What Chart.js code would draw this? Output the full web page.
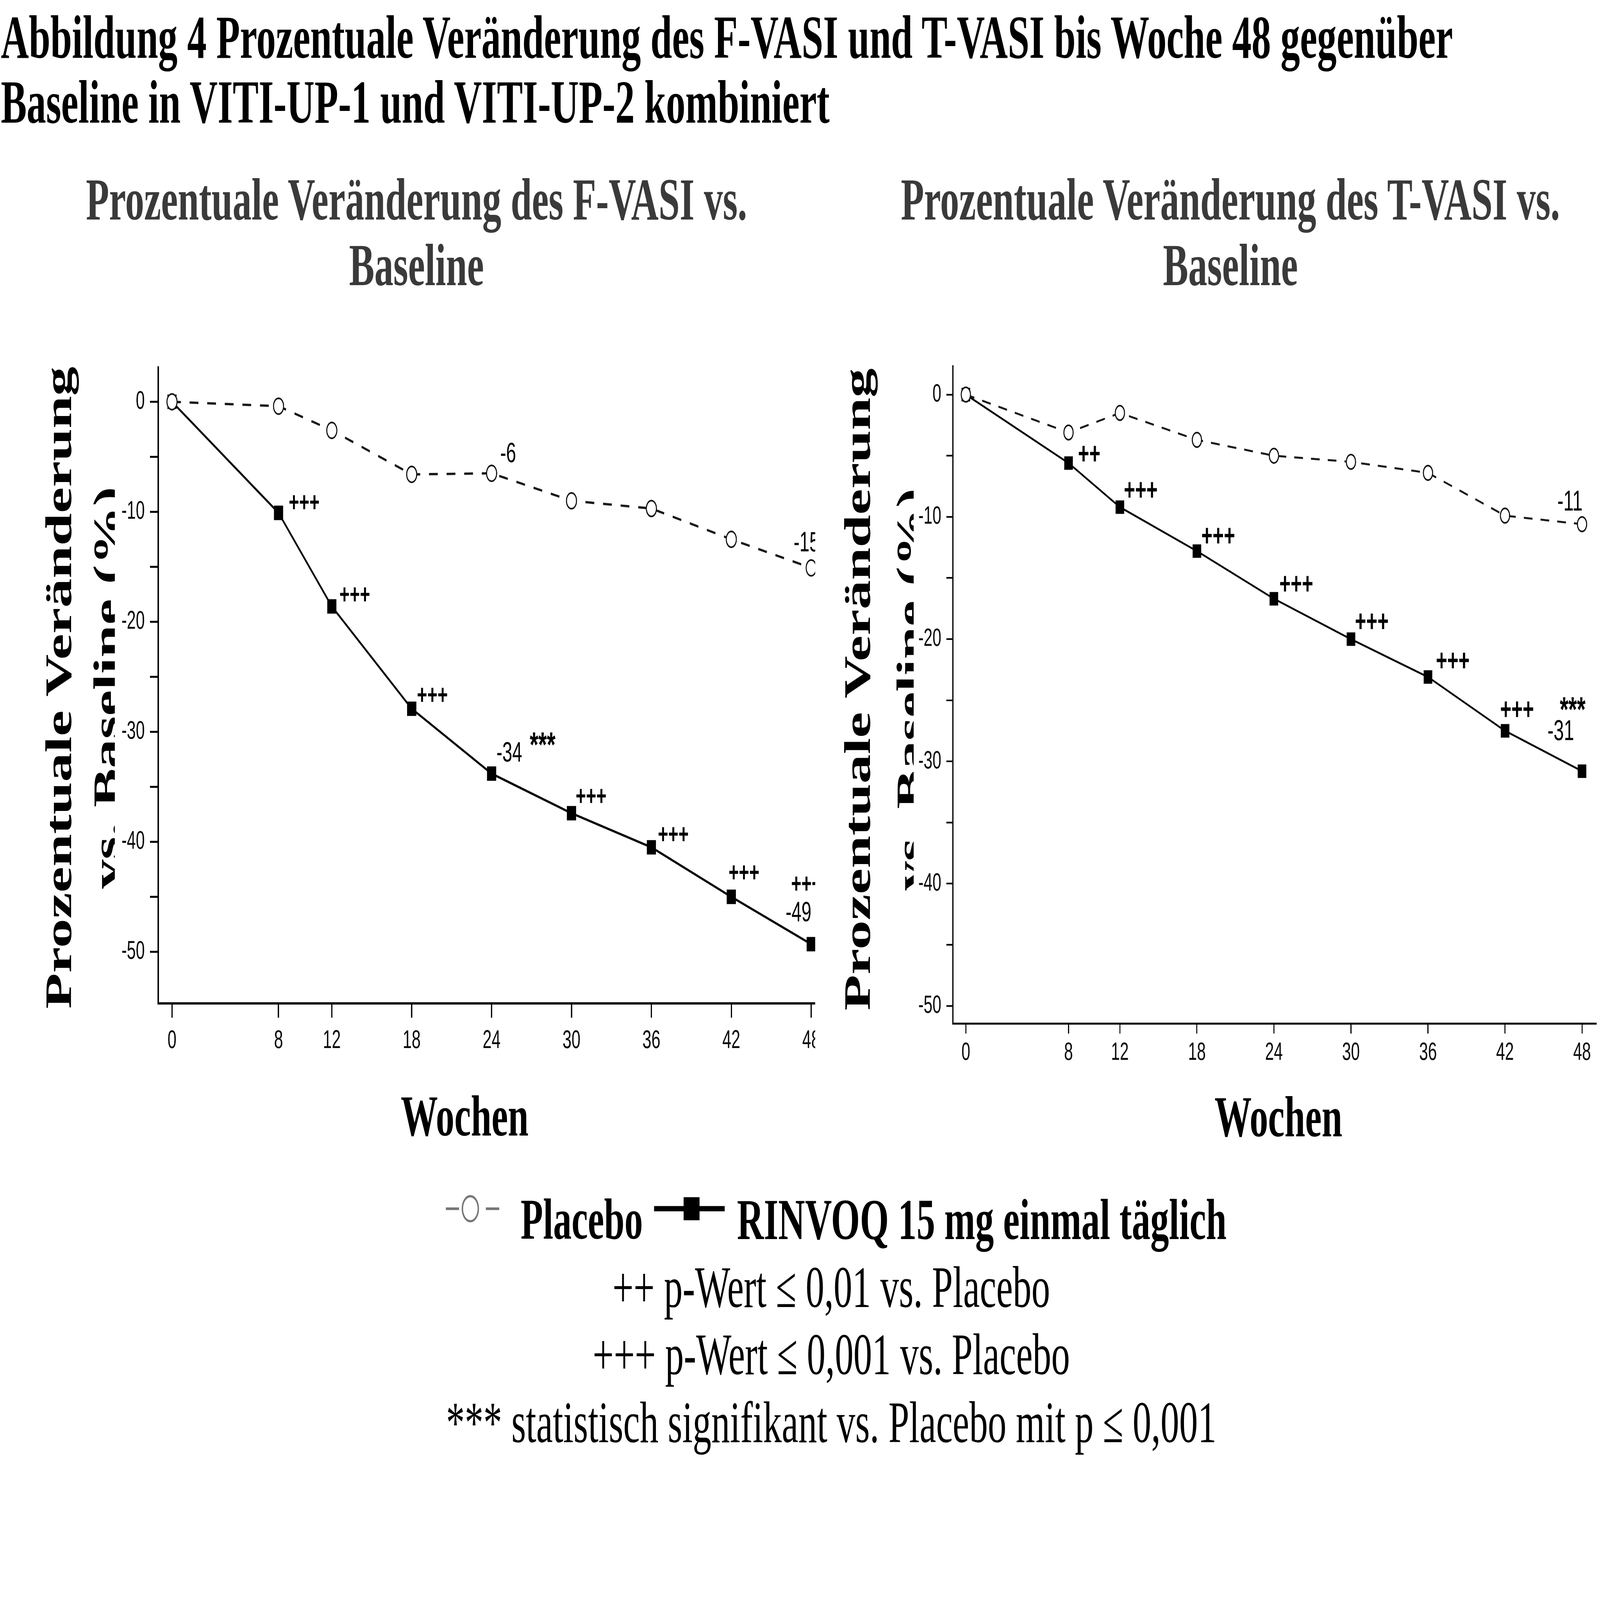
<!DOCTYPE html>
<html lang="de">
<head>
<meta charset="utf-8">
<title>Abbildung 4 – F-VASI und T-VASI</title>
<script src="https://cdn.jsdelivr.net/npm/chart.js@4.4.1/dist/chart.umd.min.js"></script>
<style>
html,body{margin:0;padding:0;background:#fff;width:100%;height:100%;overflow:hidden;}
#stage{position:absolute;left:0;top:0;width:7637px;height:4858px;transform-origin:0 0;background:#fff;}
.t{position:absolute;white-space:nowrap;line-height:1;}
.panel{position:absolute;background:#fff;}
.panel canvas{display:block;}
svg{position:absolute;overflow:visible;}
</style>
</head>
<body>
<div id="stage">
<div id="texts"></div>
<div class="panel" style="left:548px;top:1050px;width:3343px;height:2190px;"><canvas id="cL" width="3343" height="2190"></canvas></div>
<div class="panel" style="left:4361px;top:1050px;width:3276px;height:2190px;"><canvas id="cR" width="3276" height="2190"></canvas></div>
</div>
<script>
// ---------------- data ----------------
const weeks = [0, 8, 12, 18, 24, 30, 36, 42, 48];
const xTickValues = [0, 8, 12, 18, 24, 30, 36, 42, 48];
const yTickValues = [-50, -45, -40, -35, -30, -25, -20, -15, -10, -5, 0];
const yTickLabelValues = [0, -10, -20, -30, -40, -50];

const fvasiPlacebo = [0, -0.4, -2.6, -6.6, -6.5, -9.0, -9.7, -12.5, -15.1];
const fvasiRinvoq  = [0, -10.1, -18.6, -27.9, -33.8, -37.4, -40.5, -45.0, -49.3];
const tvasiPlacebo = [0, -3.1, -1.5, -3.7, -5.0, -5.5, -6.4, -9.9, -10.6];
const tvasiRinvoq  = [0, -5.6, -9.2, -12.8, -16.7, -20.0, -23.1, -27.5, -30.8];

const fvasiRinvoqSig    = ['', '+++', '+++', '+++', '***', '+++', '+++', '+++', '+++'];
const fvasiRinvoqValue  = ['', '', '', '', '-34', '', '', '', '-49'];
const fvasiPlaceboValue = ['', '', '', '', '-6', '', '', '', '-15'];
const tvasiRinvoqSig    = ['', '++', '+++', '+++', '+++', '+++', '+++', '+++', '***'];
const tvasiRinvoqValue  = ['', '', '', '', '', '', '', '', '-31'];
const tvasiPlaceboValue = ['', '', '', '', '', '', '', '', '-11'];

const figureTitle = ['Abbildung 4 Prozentuale Veränderung des F-VASI und T-VASI bis Woche 48 gegenüber',
                     'Baseline in VITI-UP-1 und VITI-UP-2 kombiniert'];
const chartTitleF = ['Prozentuale Veränderung des F-VASI vs.', 'Baseline'];
const chartTitleT = ['Prozentuale Veränderung des T-VASI vs.', 'Baseline'];
const yAxisTitle = ['Prozentuale Veränderung', 'vs. Baseline (%)'];
const xAxisTitle = 'Wochen';
const seriesNames = ['Placebo', 'RINVOQ 15 mg einmal täglich'];
const footnotes = ['++ p-Wert ≤ 0,01 vs. Placebo',
                   '+++ p-Wert ≤ 0,001 vs. Placebo',
                   '*** statistisch signifikant vs. Placebo mit p ≤ 0,001'];

// ---------------- fit the 7637x4858 stage to the actual window ----------------
(function fit() {
  const sx = window.innerWidth / 7637, sy = window.innerHeight / 4858;
  document.getElementById('stage').style.transform = 'scale(' + sx + ',' + sy + ')';
})();

// ---------------- html text ----------------
const SERIF = '"Liberation Serif","Times New Roman",serif';
const SANS = '"Liberation Sans",Arial,sans-serif';
const host = document.getElementById('texts');
function addText(txt, o) {
  const d = document.createElement('div');
  d.className = 't';
  d.textContent = txt;
  d.style.fontFamily = SERIF;
  d.style.fontSize = o.size + 'px';
  d.style.fontWeight = o.bold ? '700' : '400';
  d.style.color = o.color || '#000';
  if (o.rotate) {
    d.style.left = o.x + 'px';
    d.style.top = o.y + 'px';
    d.style.transform = 'translate(-50%,-50%) rotate(-90deg)';
  } else {
    d.style.top = (o.baseline - 0.8375 * o.size) + 'px';
    d.style.left = o.x + 'px';
    if (o.center) d.style.transform = 'translateX(-50%)';
  }
  host.appendChild(d);
}
addText(figureTitle[0], {x: 4, baseline: 176, size: 185, bold: true});
addText(figureTitle[1], {x: 4, baseline: 373, size: 185, bold: true});
addText(chartTitleF[0], {x: 1988, baseline: 667, size: 181, bold: true, center: true, color: '#3a3a3a'});
addText(chartTitleF[1], {x: 1988, baseline: 867, size: 181, bold: true, center: true, color: '#3a3a3a'});
addText(chartTitleT[0], {x: 5873, baseline: 667, size: 181, bold: true, center: true, color: '#3a3a3a'});
addText(chartTitleT[1], {x: 5873, baseline: 867, size: 181, bold: true, center: true, color: '#3a3a3a'});
// rotated y axis titles (centre of line box = baseline - 0.3375*size)
addText(yAxisTitle[0], {rotate: true, x: 340 - 60, y: 2088, size: 178, bold: true});
addText(yAxisTitle[1], {rotate: true, x: 568 - 60, y: 2088, size: 178, bold: true});
addText(yAxisTitle[0], {rotate: true, x: 4153 - 60, y: 2093, size: 178, bold: true});
addText(yAxisTitle[1], {rotate: true, x: 4403 - 60, y: 2093, size: 178, bold: true});
addText(xAxisTitle, {x: 2218, baseline: 3448, size: 177, bold: true, center: true});
addText(xAxisTitle, {x: 6102, baseline: 3450, size: 177, bold: true, center: true});
// legend
host.insertAdjacentHTML('beforeend',
  '<svg style="left:2128px;top:3620px" width="256" height="100">' +
  '<line x1="0" y1="50" x2="63" y2="50" stroke="#777" stroke-width="8"/>' +
  '<circle cx="117" cy="50" r="38" fill="#fff" stroke="#777" stroke-width="7"/>' +
  '<line x1="191" y1="50" x2="255" y2="50" stroke="#777" stroke-width="8"/></svg>' +
  '<svg style="left:3122px;top:3620px" width="337" height="100">' +
  '<line x1="0" y1="50" x2="337" y2="50" stroke="#000" stroke-width="16"/>' +
  '<rect x="141" y="15" width="76" height="70" fill="#000"/></svg>');
addText(seriesNames[0], {x: 2485, baseline: 3762, size: 175, bold: true});
addText(seriesNames[1], {x: 3518, baseline: 3762, size: 177, bold: true});
addText(footnotes[0], {x: 3968, baseline: 3969, size: 178, center: true});
addText(footnotes[1], {x: 3968, baseline: 4173, size: 178, center: true});
addText(footnotes[2], {x: 3968, baseline: 4379, size: 178, center: true});

// ---------------- Chart.js ----------------
const notesPlugin = {
  id: 'pointNotes',
  afterDatasetsDraw(chart, args, opts) {
    const ctx = chart.ctx;
    ctx.save();
    ctx.textAlign = 'left';
    ctx.textBaseline = 'alphabetic';
    for (const g of (opts.groups || [])) {
      const meta = chart.getDatasetMeta(g.dataset);
      g.texts.forEach((txt, i) => {
        if (!txt || !g.offsets[i]) return;
        const el = meta.data[i];
        ctx.font = txt.indexOf('*') >= 0 ? g.starFont : g.font;
        ctx.fillStyle = g.color || '#000';
        ctx.fillText(txt, el.x + g.offsets[i][0], el.y + g.offsets[i][1]);
      });
    }
    ctx.restore();
  }
};

function toPoints(vals) { return weeks.map((w, i) => ({x: w, y: vals[i]})); }

function makeChart(id, c) {
  return new Chart(document.getElementById(id), {
    type: 'line',
    data: {
      datasets: [
        {label: seriesNames[0], data: toPoints(c.placebo), order: 0, tension: 0, fill: false, clip: false,
         borderColor: '#161616', borderWidth: c.dashW, borderDash: c.dash,
         pointStyle: 'circle', pointRadius: c.circleR, pointBorderWidth: c.circleW,
         pointBackgroundColor: '#fff', pointBorderColor: '#111', pointHoverRadius: c.circleR},
        {label: seriesNames[1], data: toPoints(c.rinvoq), order: 1, tension: 0, fill: false, clip: false,
         borderColor: '#000', borderWidth: c.lineW,
         pointStyle: 'rect', pointRadius: c.rectR, pointBorderWidth: 0,
         pointBackgroundColor: '#000', pointBorderColor: '#000', pointHoverRadius: c.rectR}
      ]
    },
    options: {
      responsive: false, animation: false, devicePixelRatio: 1,
      layout: {autoPadding: false, padding: {left: 0, top: c.top, right: c.right, bottom: 0}},
      plugins: {legend: {display: false}, tooltip: {enabled: false}, pointNotes: {groups: c.notes}},
      scales: {
        x: {
          type: 'linear', min: c.xMin, max: c.xMax,
          afterBuildTicks: s => { s.ticks = xTickValues.map(v => ({value: v})); },
          afterFit: s => { s.height = c.xH; s.paddingLeft = 0; s.paddingRight = 0; },
          ticks: {autoSkip: false, maxRotation: 0, minRotation: 0, padding: c.xPad,
                  color: '#0a0a0a', font: {family: SANS, size: c.tickSize}, callback: v => String(v)},
          grid: {display: true, drawOnChartArea: false, drawTicks: true, tickLength: c.xTick,
                 color: '#000', lineWidth: c.tickW},
          border: {display: true, color: '#000', width: c.axisW}
        },
        y: {
          type: 'linear', min: c.yMin, max: c.yMax,
          afterBuildTicks: s => { s.ticks = yTickValues.map(v => ({value: v})); },
          afterFit: s => { s.width = c.yW; s.paddingTop = 0; s.paddingBottom = 0; },
          ticks: {autoSkip: false, padding: c.yPad, color: '#0a0a0a', font: {family: SANS, size: c.tickSize},
                  callback: v => (yTickLabelValues.indexOf(v) >= 0 ? String(v) : '')},
          grid: {display: true, drawOnChartArea: false, drawTicks: true, tickLength: c.yTick,
                 color: '#000', lineWidth: c.tickW},
          border: {display: true, color: '#000', width: c.axisW}
        }
      }
    },
    plugins: [notesPlugin]
  });
}

const N = null;
makeChart('cL', {
  placebo: fvasiPlacebo, rinvoq: fvasiRinvoq,
  xMin: -1.038, xMax: 48.30, yMin: -54.67, yMax: 3.14,
  top: 65, right: 0, xH: 194, yW: 207,
  xTick: 44, yTick: 39, xPad: 25, yPad: 25, tickSize: 77, tickW: 6, axisW: 7,
  lineW: 7, dashW: 7, dash: [42, 42], circleR: 24, circleW: 5, rectR: 31,
  notes: [
    {dataset: 1, texts: fvasiRinvoqSig, font: 'bold 84px ' + SANS, starFont: 'bold 105px ' + SANS,
     offsets: [N, [49, -4], [36, -8], [25, -14], [182, -52], [20, -24], [31, -12], [-13, -46], [-96, -156]]},
    {dataset: 1, texts: fvasiRinvoqValue, font: '85px ' + SANS, starFont: '85px ' + SANS,
     offsets: [N, N, N, N, [23, -37], N, N, N, [-122, -70]]},
    {dataset: 0, texts: fvasiPlaceboValue, font: '85px ' + SANS, starFont: '85px ' + SANS,
     offsets: [N, N, N, N, [41, -34], N, N, N, [-84, -50]]}
  ]
});
makeChart('cR', {
  placebo: tvasiPlacebo, rinvoq: tvasiRinvoq,
  xMin: -1.012, xMax: 49.09, yMin: -51.45, yMax: 2.32,
  top: 62, right: 19, xH: 132, yW: 187,
  xTick: 30, yTick: 31, xPad: 13, yPad: 24, tickSize: 76, tickW: 5, axisW: 6,
  lineW: 6, dashW: 6, dash: [42, 38], circleR: 22, circleW: 5, rectR: 29,
  notes: [
    {dataset: 1, texts: tvasiRinvoqSig, font: 'bold 92px ' + SANS, starFont: 'bold 105px ' + SANS,
     offsets: [N, [45, 2], [19, -22], [21, -16], [26, -15], [19, -24], [38, -20], [-23, -35], [-106, -151]]},
    {dataset: 1, texts: tvasiRinvoqValue, font: '88px ' + SANS, starFont: '88px ' + SANS,
     offsets: [N, N, N, N, N, N, N, N, [-165, -94]]},
    {dataset: 0, texts: tvasiPlaceboValue, font: '88px ' + SANS, starFont: '88px ' + SANS,
     offsets: [N, N, N, N, N, N, N, N, [-118, -42]]}
  ]
});
</script>
</body>
</html>
